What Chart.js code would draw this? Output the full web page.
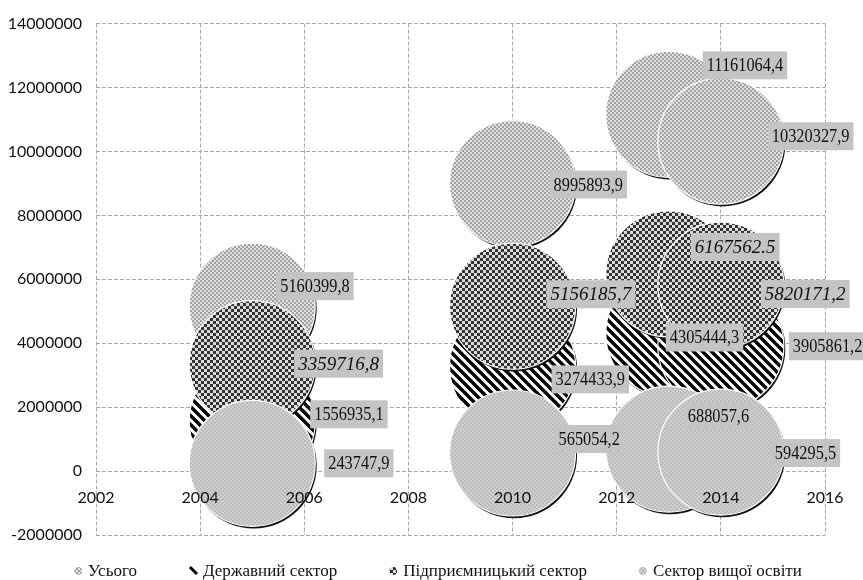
<!DOCTYPE html>
<html>
<head>
<meta charset="utf-8">
<script src="https://cdn.jsdelivr.net/npm/chart.js@4.4.1/dist/chart.umd.min.js"></script>
<style>
  html, body { margin: 0; padding: 0; background: #fff; }
  #wrap { width: 863px; height: 580px; }
</style>
</head>
<body>
<div id="wrap"><canvas id="c" width="863" height="580"></canvas></div>
<script>
// ---------- data ----------
const years = [2005, 2010, 2013, 2014];
const seriesNames = ['Усього', 'Державний сектор', 'Підприємницький сектор', 'Сектор вищої освіти'];
const totalValues    = [5160399.8, 8995893.9, 11161064.4, 10320327.9];
const stateValues    = [1556935.1, 3274433.9, 4305444.3, 3905861.2];
const businessValues = [3359716.8, 5156185.7, 6167562.5, 5820171.2];
const higherEdValues = [243747.9, 565054.2, 688057.6, 594295.5];
const totalLabels    = ['5160399,8', '8995893,9', '11161064,4', '10320327,9'];
const stateLabels    = ['1556935,1', '3274433,9', '4305444,3', '3905861,2'];
const businessLabels = ['3359716,8', '5156185,7', '6167562.5', '5820171,2'];
const higherEdLabels = ['243747,9', '565054,2', '688057,6', '594295,5'];
const xTickValues = [2002, 2004, 2006, 2008, 2010, 2012, 2014, 2016];
const yTickValues = [-2000000, 0, 2000000, 4000000, 6000000, 8000000, 10000000, 12000000, 14000000];

// ---------- styles ----------
const BUBBLE_R = 63;
// label nudges relative to bubble centre: [box-left dx, box-centre dy]
const labelNudges = [
  [[24, -20], [37, 1], [34, -49], [47, -5]],
  [[58, -7], [39, 13], [-3, 4], [68, 0]],
  [[42, 0], [34, -12], [22, -27], [40, 9]],
  [[72, 0], [42, -14], [15, -33], [50, 1]]
];

function makePattern(w, h, draw) {
  const c = document.createElement('canvas');
  c.width = w; c.height = h;
  const g = c.getContext('2d');
  draw(g, w, h);
  return document.createElement('canvas').getContext('2d').createPattern(c, 'repeat');
}
const patTotal = makePattern(4, 4, (g) => {
  g.fillStyle = '#e0e0e0'; g.fillRect(0, 0, 4, 4);
  g.fillStyle = '#a2a2a2'; g.fillRect(0, 0, 2, 2); g.fillRect(2, 2, 2, 2);
});
const patState = makePattern(9, 9, (g) => {
  g.fillStyle = '#ffffff'; g.fillRect(0, 0, 9, 9);
  g.strokeStyle = '#000000'; g.lineWidth = 3.4;
  for (const k of [-9, 0, 9]) {
    g.beginPath(); g.moveTo(k - 2, -2); g.lineTo(k + 11, 11); g.stroke();
  }
});
const patBusiness = makePattern(6, 6, (g) => {
  g.fillStyle = '#dcdcdc'; g.fillRect(0, 0, 6, 6);
  g.fillStyle = '#333333'; g.fillRect(0, 0, 3, 3); g.fillRect(3, 3, 3, 3);
});
const patHigher = makePattern(4, 4, (g) => {
  g.fillStyle = '#cfcfcf'; g.fillRect(0, 0, 4, 4);
  g.fillStyle = '#bcbcbc'; g.fillRect(0, 0, 2, 2); g.fillRect(2, 2, 2, 2);
});
const patterns = [patTotal, patState, patBusiness, patHigher];
const valueSets = [totalValues, stateValues, businessValues, higherEdValues];
const labelSets = [totalLabels, stateLabels, businessLabels, higherEdLabels];
const drawOrder = [4, 3, 2, 1];

const datasets = seriesNames.map((name, d) => ({
  label: name,
  data: years.map((yr, i) => ({ x: yr, y: valueSets[d][i] })),
  backgroundColor: patterns[d],
  borderColor: '#ffffff',
  borderWidth: 1.2,
  radius: BUBBLE_R,
  hoverRadius: 0,
  order: drawOrder[d]
}));

// dark rim at lower-right of each bubble
const rimPlugin = {
  id: 'rim',
  beforeDatasetDraw(chart, args) {
    const ctx = chart.ctx;
    ctx.save();
    ctx.fillStyle = '#111';
    args.meta.data.forEach((el) => {
      ctx.beginPath();
      ctx.arc(el.x + 1.5, el.y + 2.2, BUBBLE_R, 0, Math.PI * 2);
      ctx.fill();
    });
    ctx.restore();
  }
};

const labelPlugin = {
  id: 'valueLabels',
  afterDatasetsDraw(chart) {
    const ctx = chart.ctx;
    ctx.save();
    ctx.textBaseline = 'middle';
    ctx.textAlign = 'left';
    labelSets.forEach((labels, d) => {
      const meta = chart.getDatasetMeta(d);
      const italic = d === 2;
      const scaleX = italic ? 1.0 : 0.86;
      ctx.font = (italic ? 'italic ' : '') + '19px "Liberation Serif"';
      labels.forEach((txt, i) => {
        const el = meta.data[i];
        const [dx, dy] = labelNudges[d][i];
        const w = ctx.measureText(txt).width * scaleX;
        const left = el.x + dx, cy = el.y + dy;
        ctx.fillStyle = '#c4c4c4';
        ctx.fillRect(left, cy - 14, w + 8, 28);
        ctx.save();
        ctx.translate(left + 4, cy + 1);
        ctx.scale(scaleX, 1);
        ctx.fillStyle = '#111';
        ctx.fillText(txt, 0, 0);
        ctx.restore();
      });
    });
    ctx.restore();
  }
};

const legendPlugin = {
  id: 'customLegend',
  afterDraw(chart) {
    const ctx = chart.ctx;
    ctx.save();
    ctx.font = '17px "Liberation Serif"';
    ctx.textBaseline = 'middle';
    const markerW = 8, markerGap = 6, itemGap = 52, cy = 571;
    const widths = seriesNames.map(n => markerW + markerGap + ctx.measureText(n).width);
    const total = widths.reduce((a, b) => a + b, 0) + itemGap * (seriesNames.length - 1);
    let x = 438 - total / 2;
    seriesNames.forEach((name, d) => {
      if (d === 1) {
        ctx.strokeStyle = '#000'; ctx.lineWidth = 3;
        ctx.beginPath(); ctx.moveTo(x + 1, cy - 4); ctx.lineTo(x + 8, cy + 3); ctx.stroke();
      } else {
        ctx.fillStyle = patterns[d];
        ctx.beginPath(); ctx.arc(x + 4, cy, 4, 0, Math.PI * 2); ctx.fill();
      }
      ctx.fillStyle = '#111';
      ctx.fillText(name, x + markerW + markerGap, cy + 1);
      x += widths[d] + itemGap;
    });
    ctx.restore();
  }
};

new Chart(document.getElementById('c'), {
  type: 'bubble',
  data: { datasets },
  options: {
    responsive: false,
    animation: false,
    events: [],
    layout: { autoPadding: false, padding: { left: 0, right: 38, top: 17, bottom: 45 } },
    plugins: {
      legend: { display: false },
      tooltip: { enabled: false }
    },
    scales: {
      x: {
        type: 'linear',
        position: { y: 0 },
        min: 2002, max: 2016,
        afterBuildTicks: (s) => { s.ticks = xTickValues.map(v => ({ value: v })); },
        ticks: {
          callback: (v) => String(v),
          font: { family: 'Lato', size: 16 },
          color: '#111',
          padding: 17,
          z: 1
        },
        grid: { color: '#a8a8a8', lineWidth: 1, drawTicks: false },
        border: { display: false, dash: [4, 2] }
      },
      y: {
        type: 'linear',
        min: -2000000, max: 14000000,
        afterBuildTicks: (s) => { s.ticks = yTickValues.map(v => ({ value: v })); },
        afterFit: (s) => { s.width = 96; },
        ticks: {
          callback: (v) => String(v),
          font: { family: 'Lato', size: 16 },
          color: '#111',
          padding: 14
        },
        grid: { color: '#a8a8a8', lineWidth: 1, drawTicks: false },
        border: { display: false, dash: [4, 2] }
      }
    }
  },
  plugins: [rimPlugin, labelPlugin, legendPlugin]
});
</script>
</body>
</html>
